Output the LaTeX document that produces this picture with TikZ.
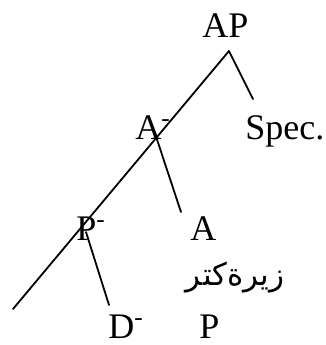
\documentclass[tikz,border=0pt]{standalone}
\usepackage{fontspec}
\setmainfont{Liberation Serif}
\newfontfamily\arabicfont[Script=Arabic]{DejaVu Sans}
\TeXXeTstate=1

\begin{document}
\begin{tikzpicture}[x=0.5pt, y=-0.5pt,
  lbl/.style={inner sep=0pt, anchor=base west, font=\fontsize{18}{22}\selectfont},
  arab/.style={inner sep=0pt, anchor=base, font=\fontsize{15.5}{19}\arabicfont},
  branch/.style={line width=0.9pt, line cap=round}
]
\useasboundingbox (0,0) rectangle (326,345);
% labels
\node[lbl] (AP) at (202,37) {AP};
\node[lbl] (Abar) at (135,139) {A\textsuperscript{-}};
\node[lbl] (Spec) at (245,139) {Spec.};
\node[lbl] (Pbar) at (76,240) {P\textsuperscript{-}};
\node[lbl] (A) at (190,240) {A};
\node[arab] (zirektir) at (235,285) {\beginR زیرةکتر\endR};
\node[lbl] (Dbar) at (108,338) {D\textsuperscript{-}};
\node[lbl] (P) at (199,338) {P};
% tree
\coordinate (top) at (229,51);
\coordinate (specend) at (253,99);
\coordinate (abarjoin) at (156.5,138);
\coordinate (aend) at (181,212);
\coordinate (pbarjoin) at (86,232);
\coordinate (dend) at (109,305);
\coordinate (bottom) at (13,309);
\draw[branch] (top) -- (bottom);
\draw[branch] (top) -- (specend);
\draw[branch] (abarjoin) -- (aend);
\draw[branch] (pbarjoin) -- (dend);
\end{tikzpicture}
\end{document}
